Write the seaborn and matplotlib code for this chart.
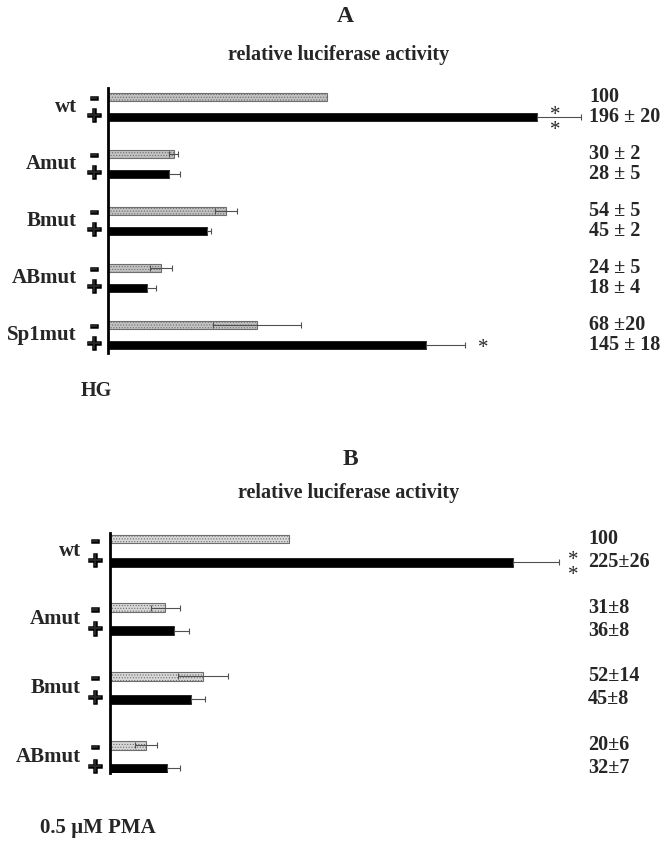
import numpy as np
import pandas as pd
import seaborn as sns
import matplotlib
matplotlib.use("Agg")
import matplotlib.pyplot as plt
from matplotlib import patheffects as pe
from matplotlib.transforms import blended_transform_factory

# ---------------- data ----------------
treatments = ["-", "+"]

groups_a = ["wt", "Amut", "Bmut", "ABmut", "Sp1mut"]
minus_a = [100, 30, 54, 24, 68]
minus_err_a = [0, 2, 5, 5, 20]
plus_a = [196, 28, 45, 18, 145]
plus_err_a = [20, 5, 2, 4, 18]
labels_minus_a = ["100", "30 ± 2", "54 ± 5", "24 ± 5", "68 ±20"]
labels_plus_a = ["196 ± 20", "28 ± 5", "45 ± 2", "18 ± 4", "145 ± 18"]

groups_b = ["wt", "Amut", "Bmut", "ABmut"]
minus_b = [100, 31, 52, 20]
minus_err_b = [0, 8, 14, 6]
plus_b = [225, 36, 45, 32]
plus_err_b = [26, 8, 8, 7]
labels_minus_b = ["100", "31±8", "52±14", "20±6"]
labels_plus_b = ["225±26", "36±8", "45±8", "32±7"]

# ---------------- style ----------------
sns.set_style("white")
plt.rcParams["font.family"] = ["Liberation Serif", "DejaVu Serif"]
plt.rcParams["font.weight"] = "bold"
plt.rcParams["hatch.linewidth"] = 0.5

W, H = 665, 842
fig = plt.figure(figsize=(W / 100, H / 100), dpi=100)


def add_ax(left, top, bottom, width):
    return fig.add_axes([left / W, 1 - bottom / H, width / W, (bottom - top) / H])


def fx(x):
    return x / W


def fy(y):
    return 1 - y / H


thick = [pe.withStroke(linewidth=1.8, foreground="black", joinstyle="miter")]


def draw_panel(ax, groups, minus, merr, plus, perr, lab_m, lab_p, gray,
               xmax, ylim, width, gap, label_right, sign_x, num_x, sign_ls):
    df = pd.DataFrame({
        "construct": groups * 2,
        "treatment": ["-"] * len(groups) + ["+"] * len(groups),
        "value": list(minus) + list(plus),
    })
    sns.barplot(data=df, x="value", y="construct", hue="treatment",
                order=groups, hue_order=treatments,
                palette={"-": gray, "+": "black"}, orient="h",
                width=width, gap=gap, errorbar=None, legend=False,
                saturation=1, ax=ax)
    half = width / 4
    for p in ax.patches:
        cy = p.get_y() + p.get_height() / 2
        i = int(round(cy))
        neg = cy < i
        if neg:
            p.set_facecolor(gray)
            p.set_edgecolor("#6e6e6e")
            p.set_linewidth(0.8)
            p.set_hatch("......")
            err = merr[i]
            xerr = [[err], [err]]
        else:
            p.set_facecolor("black")
            p.set_edgecolor("black")
            p.set_linewidth(0.5)
            err = perr[i]
            xerr = [[0], [err]]
        if err > 0:
            ax.errorbar(x=[p.get_width()], y=[cy], xerr=xerr, fmt="none",
                        ecolor="#505050", elinewidth=0.8, capsize=2.2,
                        capthick=0.8, zorder=4)
    ax.set_xlim(0, xmax)
    ax.set_ylim(*ylim)
    ax.set_xticks([])
    ax.set_yticks([])
    ax.set_xlabel("")
    ax.set_ylabel("")
    for s in ["top", "right", "bottom"]:
        ax.spines[s].set_visible(False)
    ax.spines["left"].set_linewidth(2)
    ax.spines["left"].set_color("black")

    tr = blended_transform_factory(fig.transFigure, ax.transData)
    for i, g in enumerate(groups):
        fig.text(fx(label_right), i, g, transform=tr, ha="right", va="center",
                 fontsize=15, fontweight="bold")
        fig.text(fx(sign_x), i + 0.01, "-\n+", transform=tr, ha="center",
                 va="center", multialignment="center", fontsize=19,
                 fontweight="bold", linespacing=sign_ls, path_effects=thick)
        fig.text(fx(num_x), i - half, lab_m[i], transform=tr, ha="left",
                 va="center", fontsize=14.5, fontweight="bold")
        fig.text(fx(num_x), i + half, lab_p[i], transform=tr, ha="left",
                 va="center", fontsize=14.5, fontweight="bold")


# Panel A
axA = add_ax(108, 88, 353, 480)
draw_panel(axA, groups_a, minus_a, minus_err_a, plus_a, plus_err_a,
           labels_minus_a, labels_plus_a, "#c2c2c2",
           480 / 2.19, (4.316, -0.333), 0.684, 0.59, 77, 94, 589, 0.78)

# Panel B
axB = add_ax(110, 533, 773, 480)
draw_panel(axB, groups_b, minus_b, minus_err_b, plus_b, plus_err_b,
           labels_minus_b, labels_plus_b, "#d8d8d8",
           480 / 1.79, (3.239, -0.255), 0.67, 0.61, 81, 95, 588, 0.92)

# titles and annotations
fig.text(fx(345), fy(17), "A", ha="center", va="center", fontsize=17, fontweight="bold")
fig.text(fx(339), fy(55), "relative luciferase activity", ha="center", va="center",
         fontsize=14.5, fontweight="bold")
fig.text(fx(350), fy(459), "B", ha="center", va="center", fontsize=17, fontweight="bold")
fig.text(fx(349), fy(493), "relative luciferase activity", ha="center", va="center",
         fontsize=14.5, fontweight="bold")
fig.text(fx(81), fy(391), "HG", ha="left", va="center", fontsize=14.5, fontweight="bold")
fig.text(fx(40), fy(828), "0.5 µM PMA", ha="left", va="center", fontsize=15,
         fontweight="bold")

# significance asterisks
fig.text(fx(555), fy(123), "*\n*", ha="center", va="center", fontsize=15,
         fontweight="normal", linespacing=0.68)
fig.text(fx(483), fy(353), "*", ha="center", va="baseline", fontsize=15,
         fontweight="normal")
fig.text(fx(573), fy(568), "*\n*", ha="center", va="center", fontsize=15,
         fontweight="normal", linespacing=0.78)

fig.savefig("out.png", dpi=100, facecolor="white")
